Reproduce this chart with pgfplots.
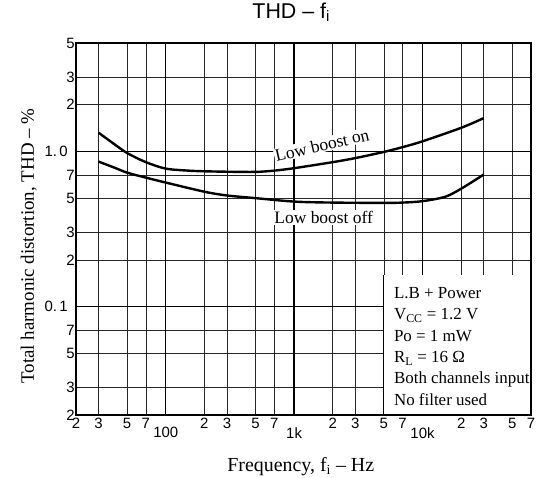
\documentclass[border=0pt]{standalone}
\usepackage{pgfplots}
\pgfplotsset{compat=1.18}
\usepackage{fontspec}
\setmainfont{Liberation Serif}
\newfontfamily\sansf{Liberation Sans}

\begin{document}
\begin{tikzpicture}
\begin{axis}[
  at={(76bp,63bp)}, anchor=south west,
  scale only axis, width=455bp, height=372bp,
  xmode=log, ymode=log,
  xmin=20, xmax=70000, ymin=0.02, ymax=5,
  xtick={20,30,50,70,200,300,500,700,2000,3000,5000,7000,20000,30000,50000,70000},
  xticklabels={2,3,5,7,2,3,5,7,2,3,5,7,2,3,5,7},
  extra x ticks={100,1000,10000},
  extra x tick labels={100,1k,10k},
  extra x tick style={grid=major, major grid style={black, line width=1.5bp},
    tick label style={yshift=-9bp}},
  ytick={0.02,0.03,0.05,0.07,0.2,0.3,0.5,0.7,2,3,5},
  yticklabels={2,3,5,7,2,3,5,7,2,3,5},
  extra y ticks={0.1,1},
  extra y tick labels={0.\,1,1.\,0},
  extra y tick style={grid=major, major grid style={black, line width=1.5bp},
    tick label style={xshift=-7bp}},
  grid=major,
  major grid style={black!85, line width=0.7bp},
  major tick length=0pt, minor tick length=0pt,
  axis line style={line width=1.3bp},
  tick label style={font=\sansf\fontsize{15}{15}\selectfont, inner sep=1bp},
  xticklabel style={yshift=-2bp},
  title={\sansf THD – f\textsubscript{i}},
  title style={font=\fontsize{21.5}{21.5}\selectfont, at={(axis description cs:0.473,1.051)}, anchor=base},
  xlabel={Frequency, f\textsubscript{i} -- Hz},
  xlabel style={font=\fontsize{20}{20}\selectfont, at={(axis description cs:0.494,-0.113)}, anchor=north, inner sep=0pt},
  ylabel={Total harmonic distortion, THD -- \%},
  ylabel style={font=\fontsize{19}{19}\selectfont, at={(axis description cs:-0.086,0.454)}, anchor=south, inner sep=0pt},
]
% Low boost on
\addplot[black, line width=2.4bp, smooth, tension=0.5] coordinates {
  (30,1.32) (40,1.11) (50,0.977) (70,0.853) (100,0.775) (150,0.752) (200,0.745)
  (300,0.74) (500,0.738) (700,0.752) (1000,0.78) (2000,0.853) (3000,0.906)
  (5000,0.993) (7000,1.066) (10000,1.162) (20000,1.42) (30000,1.64)
};
% Low boost off
\addplot[black, line width=2.4bp, smooth, tension=0.5] coordinates {
  (30,0.86) (40,0.785) (50,0.73) (70,0.678) (100,0.63) (200,0.55) (300,0.52)
  (500,0.5) (1000,0.475) (2000,0.468) (5000,0.466) (7000,0.468) (10000,0.478)
  (15000,0.51) (20000,0.575) (30000,0.71)
};
\node[fill=white, inner sep=1bp, rotate=13, font=\fontsize{17.5}{17.5}\selectfont]
  at (axis cs:1650,1.1) {Low boost on};
\node[fill=white, inner sep=1.5bp, font=\fontsize{17.5}{17.5}\selectfont]
  at (axis cs:1700,0.375) {Low boost off};
\fill[white] (axis cs:5000,0.16) rectangle (axis cs:70000,0.02);
\draw[line width=0.8bp] (axis cs:5000,0.16) -- (axis cs:5000,0.02);
\node[anchor=north west, align=left, inner sep=0pt, xshift=10bp, yshift=-12bp,
  font=\fontsize{17}{21.5}\selectfont] at (axis cs:5000,0.16)
  {L.B + Power\\ V\textsubscript{CC} = 1.2 V\\ Po = 1 mW\\ R\textsubscript{L} = 16 Ω\\
   Both channels input\\ No filter used};
\draw[line width=1.3bp] (rel axis cs:0,0) rectangle (rel axis cs:1,1);
\end{axis}
\pgfresetboundingbox
\path[use as bounding box] (0,0) rectangle (541bp,478bp);
\end{tikzpicture}
\end{document}
